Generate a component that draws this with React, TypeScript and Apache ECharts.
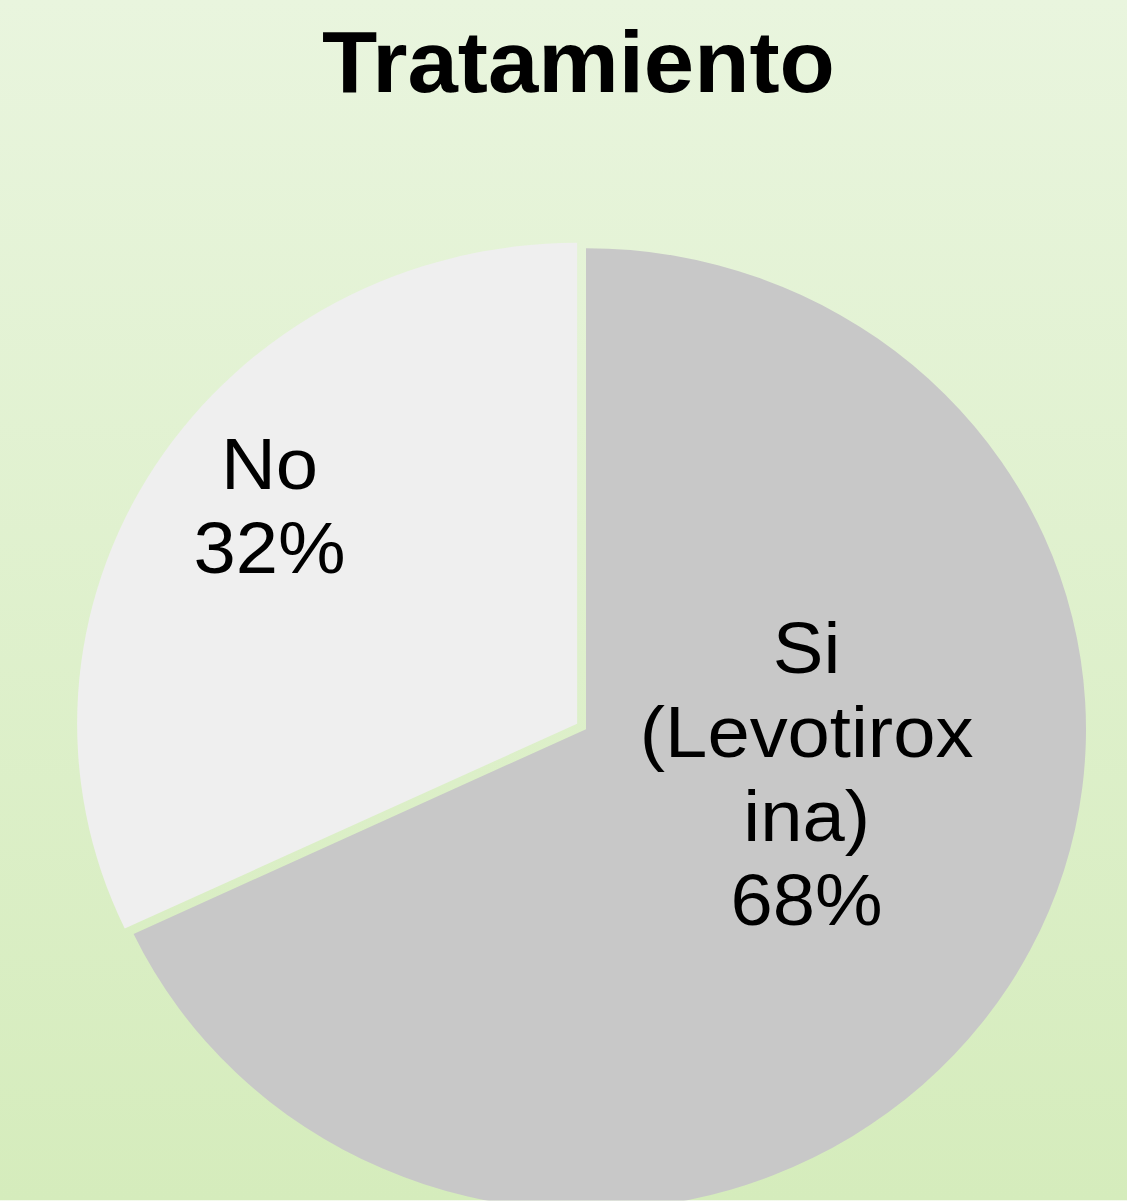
import React, { useEffect, useRef } from "react";
import * as echarts from "echarts";

const titleText = "Tratamiento";
const categories = ["Si (Levotiroxina)", "No"];
const labelLines = ["Si\n(Levotirox\nina)", "No"];
const values = [68, 32];
const colors = ["#c8c8c8", "#efefef"];

const W = 1127;
const H = 1201;
const SY = 0.962;
const CH = Math.round(H / SY);
const FONT = "'Liberation Sans', Arial, sans-serif";

export default function App() {
  const ref = useRef<HTMLDivElement>(null);
  useEffect(() => {
    document.body.style.margin = "0";
    const chart = echarts.init(ref.current!, null, { renderer: "svg", width: W, height: CH });
    chart.setOption({
      animation: false,
      backgroundColor: new echarts.graphic.LinearGradient(0, 0, 0, 1, [
        { offset: 0, color: "#e9f5de" },
        { offset: 1, color: "#d5ecbc" },
      ]),
      title: {
        text: titleText,
        left: 317,
        top: 14,
        textStyle: { fontFamily: FONT, fontSize: 90.5, fontWeight: "bold", color: "#000" },
      },
      series: [
        {
          type: "pie",
          radius: 500,
          center: [586, 758],
          startAngle: 90,
          clockwise: true,
          selectedMode: "single",
          selectedOffset: 10.5,
          emphasis: { disabled: true },
          label: {
            show: true,
            position: "inside",
            fontFamily: FONT,
            fontSize: 76,
            lineHeight: 87.5,
            color: "#000",
            align: "center",
            formatter: (p: any) => `${labelLines[p.dataIndex]}\n${Math.round(p.percent)}%`,
          },
          labelLine: { show: false },
          labelLayout: (p: any) => (p.dataIndex === 0 ? { dx: 7, dy: -89 } : { dx: -94, dy: -91 }),
          data: categories.map((n, i) => ({
            name: n,
            value: values[i],
            selected: i === 1,
            itemStyle: { color: colors[i] },
          })),
        },
      ],
    });
    return () => chart.dispose();
  }, []);
  return (
    <div style={{ width: W, height: H, overflow: "hidden", position: "relative" }}>
      <div
        ref={ref}
        style={{ width: W, height: CH, transform: `scaleY(${SY})`, transformOrigin: "0 0" }}
      />
    </div>
  );
}
